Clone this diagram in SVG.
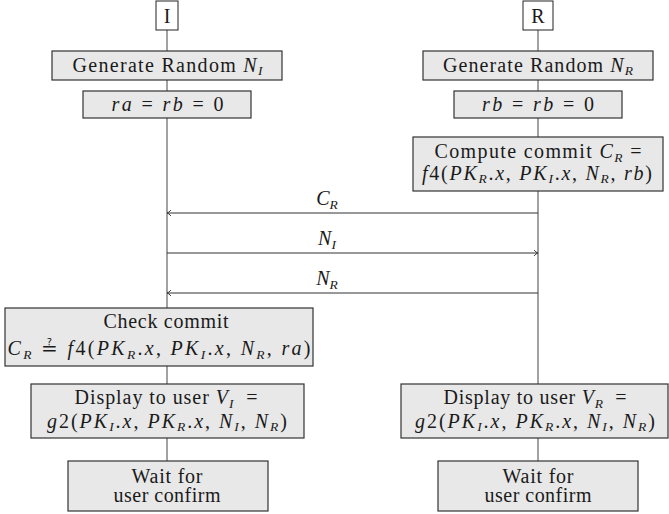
<svg xmlns="http://www.w3.org/2000/svg" width="669" height="514" viewBox="0 0 669 514">
<style>
text{font-family:"Liberation Serif","DejaVu Serif",serif;font-size:20px;fill:#1a1a1a;text-anchor:middle}
.i{font-style:italic}
.s{font-size:13.5px;font-style:italic}
.box{fill:#e8e8e8;stroke:#333;stroke-width:1.2}
.hdr{fill:#fff;stroke:#222;stroke-width:1}
.life{stroke:#555;stroke-width:1.1;fill:none}
.msg{stroke:#333;stroke-width:1;fill:none}
</style>
<defs>
<marker id="ah" markerWidth="8" markerHeight="8" refX="6" refY="4" orient="auto" markerUnits="userSpaceOnUse">
<path d="M2,1 Q4,3.5 6,4 Q4,4.5 2,7" fill="none" stroke="#333" stroke-width="0.9"/>
</marker>
</defs>
<g id="lifelines">
<line class="life" x1="167" y1="30" x2="167" y2="461"/>
<line class="life" x1="538" y1="30" x2="538" y2="461"/>
</g>
<g id="I">
<rect class="hdr" x="156" y="1" width="22" height="29"/>
<text x="167" y="22.5">I</text>
</g>
<g id="R">
<rect class="hdr" x="523" y="1" width="30" height="29"/>
<text x="538" y="22.5">R</text>
</g>
<g id="genI">
<rect class="box" x="52" y="51" width="230" height="29"/>
<text x="167.5" y="71.5" textLength="190" lengthAdjust="spacing">Generate Random <tspan class="i">N</tspan><tspan class="s" dy="3.5">I</tspan></text>
</g>
<g id="genR">
<rect class="box" x="423" y="51" width="230" height="29"/>
<text x="538" y="71.5" textLength="190" lengthAdjust="spacing">Generate Random <tspan class="i">N</tspan><tspan class="s" dy="3.5">R</tspan></text>
</g>
<g id="initI">
<rect class="box" x="83" y="91" width="168" height="27"/>
<text x="167.5" y="110.5" xml:space="preserve" textLength="112" lengthAdjust="spacing"><tspan class="i">ra</tspan> = <tspan class="i">rb</tspan> = 0</text>
</g>
<g id="initR">
<rect class="box" x="454" y="91" width="168" height="27"/>
<text x="538" y="110.5" xml:space="preserve" textLength="112" lengthAdjust="spacing"><tspan class="i">rb</tspan> = <tspan class="i">rb</tspan> = 0</text>
</g>
<g id="compute">
<rect class="box" x="413" y="137" width="250" height="54"/>
<text x="538" y="158" xml:space="preserve" textLength="207" lengthAdjust="spacing">Compute commit <tspan class="i">C</tspan><tspan class="s" dy="3.5">R</tspan><tspan dy="-3.5"> =</tspan></text>
<text x="537" y="179.5" textLength="230" lengthAdjust="spacing"><tspan class="i">f</tspan>4(<tspan class="i">PK</tspan><tspan class="s" dy="3.5">R</tspan><tspan dy="-3.5">.</tspan><tspan class="i">x</tspan>, <tspan class="i">PK</tspan><tspan class="s" dy="3.5">I</tspan><tspan dy="-3.5">.</tspan><tspan class="i">x</tspan>, <tspan class="i">N</tspan><tspan class="s" dy="3.5">R</tspan><tspan dy="-3.5">, </tspan><tspan class="i">rb</tspan>)</text>
</g>
<g id="connectors">
<line class="msg" x1="538" y1="213" x2="167" y2="213" marker-end="url(#ah)"/>
<line class="msg" x1="167" y1="253" x2="538" y2="253" marker-end="url(#ah)"/>
<line class="msg" x1="538" y1="293" x2="167" y2="293" marker-end="url(#ah)"/>
<text x="327" y="205"><tspan class="i">C</tspan><tspan class="s" dy="3.5">R</tspan></text>
<text x="327" y="245"><tspan class="i">N</tspan><tspan class="s" dy="3.5">I</tspan></text>
<text x="327" y="285"><tspan class="i">N</tspan><tspan class="s" dy="3.5">R</tspan></text>
</g>
<g id="check">
<rect class="box" x="5" y="308" width="308" height="58"/>
<text x="166" y="328" textLength="125" lengthAdjust="spacing">Check commit</text>
<text x="159" y="355" textLength="303" lengthAdjust="spacing"><tspan class="i">C</tspan><tspan class="s" dy="3.5">R</tspan><tspan dy="-3.5"> ≟ </tspan><tspan class="i">f</tspan>4(<tspan class="i">PK</tspan><tspan class="s" dy="3.5">R</tspan><tspan dy="-3.5">.</tspan><tspan class="i">x</tspan>, <tspan class="i">PK</tspan><tspan class="s" dy="3.5">I</tspan><tspan dy="-3.5">.</tspan><tspan class="i">x</tspan>, <tspan class="i">N</tspan><tspan class="s" dy="3.5">R</tspan><tspan dy="-3.5">, </tspan><tspan class="i">ra</tspan>)</text>
</g>
<g id="dispI">
<rect class="box" x="31" y="384" width="273" height="54"/>
<text x="166" y="404" xml:space="preserve" textLength="183" lengthAdjust="spacing">Display to user <tspan class="i">V</tspan><tspan class="s" dy="3.5">I</tspan><tspan dy="-3.5">  =</tspan></text>
<text x="167" y="427.5" textLength="240" lengthAdjust="spacing"><tspan class="i">g</tspan>2(<tspan class="i">PK</tspan><tspan class="s" dy="3.5">I</tspan><tspan dy="-3.5">.</tspan><tspan class="i">x</tspan>, <tspan class="i">PK</tspan><tspan class="s" dy="3.5">R</tspan><tspan dy="-3.5">.</tspan><tspan class="i">x</tspan>, <tspan class="i">N</tspan><tspan class="s" dy="3.5">I</tspan><tspan dy="-3.5">, </tspan><tspan class="i">N</tspan><tspan class="s" dy="3.5">R</tspan><tspan dy="-3.5">)</tspan></text>
</g>
<g id="dispR">
<rect class="box" x="401" y="384" width="267" height="54"/>
<text x="535" y="404" xml:space="preserve" textLength="183" lengthAdjust="spacing">Display to user <tspan class="i">V</tspan><tspan class="s" dy="3.5">R</tspan><tspan dy="-3.5">  =</tspan></text>
<text x="535" y="427.5" textLength="240" lengthAdjust="spacing"><tspan class="i">g</tspan>2(<tspan class="i">PK</tspan><tspan class="s" dy="3.5">I</tspan><tspan dy="-3.5">.</tspan><tspan class="i">x</tspan>, <tspan class="i">PK</tspan><tspan class="s" dy="3.5">R</tspan><tspan dy="-3.5">.</tspan><tspan class="i">x</tspan>, <tspan class="i">N</tspan><tspan class="s" dy="3.5">I</tspan><tspan dy="-3.5">, </tspan><tspan class="i">N</tspan><tspan class="s" dy="3.5">R</tspan><tspan dy="-3.5">)</tspan></text>
</g>
<g id="waitI">
<rect class="box" x="68" y="461" width="200" height="50"/>
<text x="167" y="482.5" textLength="71" lengthAdjust="spacing">Wait for</text>
<text x="167" y="501.5" textLength="107" lengthAdjust="spacing">user confirm</text>
</g>
<g id="waitR">
<rect class="box" x="438" y="461" width="200" height="50"/>
<text x="538" y="482.5" textLength="71" lengthAdjust="spacing">Wait for</text>
<text x="538" y="501.5" textLength="107" lengthAdjust="spacing">user confirm</text>
</g>
</svg>
